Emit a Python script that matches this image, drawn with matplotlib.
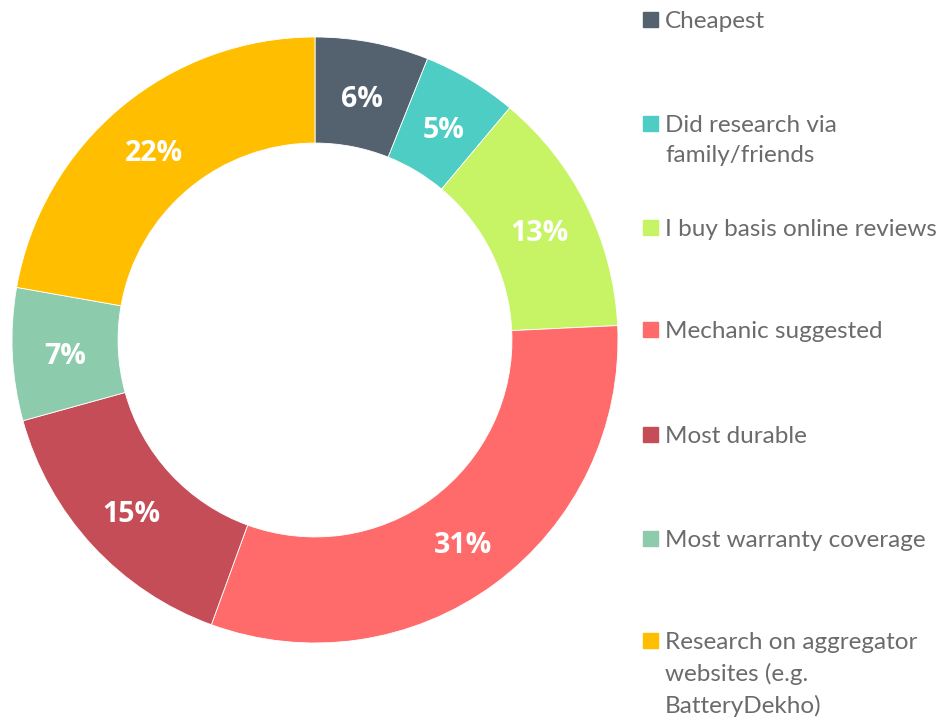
import matplotlib
matplotlib.use("Agg")
import matplotlib.pyplot as plt
from matplotlib.patches import Rectangle
import numpy as np

# data
labels = ["Cheapest", "Did research via\nfamily/friends", "I buy basis online reviews",
          "Mechanic suggested", "Most durable", "Most warranty coverage",
          "Research on aggregator\nwebsites (e.g.\nBatteryDekho)"]
shares = [6, 5, 13, 31, 15, 7, 22]
colors = ["#546270", "#4ECDC4", "#C7F464", "#FF6B6B", "#C44D58", "#8CCBAC", "#FFBF00"]

W, H = 944, 721
fig = plt.figure(figsize=(W / 100, H / 100), dpi=100)

# donut placed in pixel terms
cx, cy, R = 315, 340, 303
ax = fig.add_axes([(cx - R) / W, (H - cy - R) / H, 2 * R / W, 2 * R / H])
wedges, _ = ax.pie(shares, colors=colors, startangle=90, counterclock=False,
                   radius=1, wedgeprops=dict(width=0.35, edgecolor="white", linewidth=0.6))
ax.set_xlim(-1, 1)
ax.set_ylim(-1, 1)
ax.set_aspect("equal")
ax.axis("off")

for w, v in zip(wedges, shares):
    ang = np.deg2rad((w.theta1 + w.theta2) / 2)
    r = 1 - 0.35 / 2
    ax.text(r * np.cos(ang), r * np.sin(ang) - 0.015, f"{v}%", ha="center", va="center",
            color="white", fontsize=20.5, fontweight="bold", family="Open Sans")

# legend drawn by hand
leg_y = [20, 124, 228, 330, 435, 539, 641]
for lab, col, y in zip(labels, colors, leg_y):
    fig.patches.append(Rectangle((643 / W, 1 - (y + 7) / H), 15 / W, 15 / H,
                                 transform=fig.transFigure, color=col))
    fig.text(665 / W, 1 - (y - 9) / H, lab, ha="left", va="top", fontsize=17.5,
             color="#6B6B6B", family="Lato", linespacing=1.55)

fig.savefig("out.png", dpi=100)
